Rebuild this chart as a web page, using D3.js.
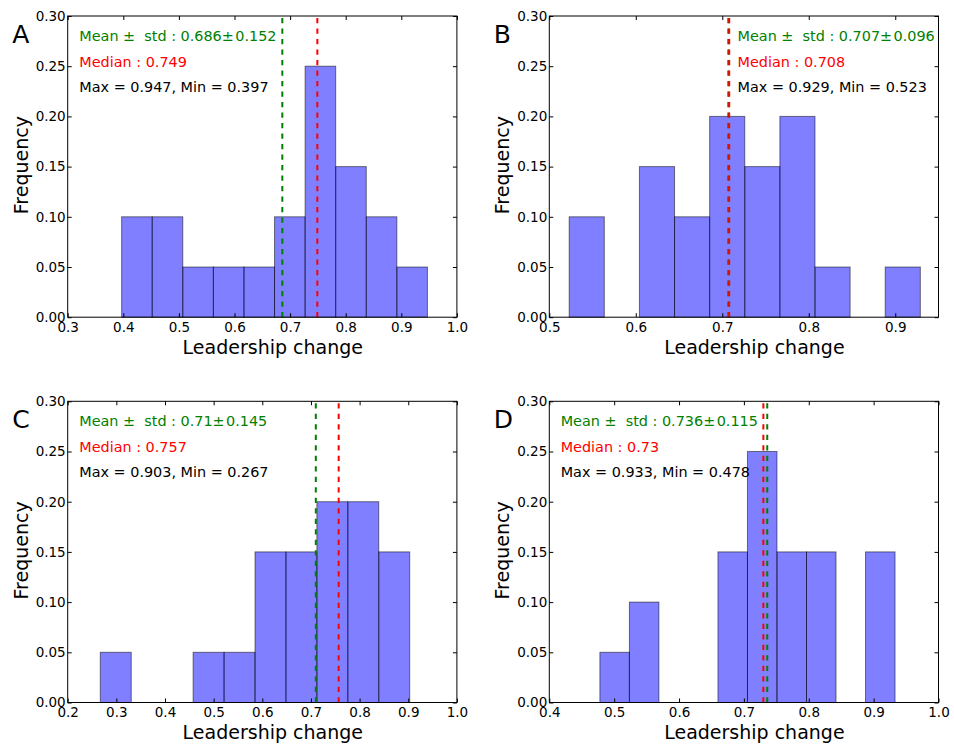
<!DOCTYPE html>
<html>
<head>
<meta charset="utf-8">
<script src="https://cdn.jsdelivr.net/npm/d3@7"></script>
<style>
  body { margin: 0; background: #fff; }
  svg { display: block; font-family: "DejaVu Sans", sans-serif; }
</style>
</head>
<body>
<svg id="chart" width="954" height="747"></svg>
<script>
// ---------------- data ----------------
const panelLetters = ["A", "B", "C", "D"];

const binEdgesA = [0.397, 0.452, 0.507, 0.562, 0.617, 0.672, 0.727, 0.782, 0.837, 0.892, 0.947];
const freqA     = [0.10, 0.10, 0.05, 0.05, 0.05, 0.10, 0.25, 0.15, 0.10, 0.05];

const binEdgesB = [0.523, 0.5636, 0.6042, 0.6448, 0.6854, 0.726, 0.7666, 0.8072, 0.8478, 0.8884, 0.929];
const freqB     = [0.10, 0.00, 0.15, 0.10, 0.20, 0.15, 0.20, 0.05, 0.00, 0.05];

const binEdgesC = [0.267, 0.3306, 0.3942, 0.4578, 0.5214, 0.585, 0.6486, 0.7122, 0.7758, 0.8394, 0.903];
const freqC     = [0.05, 0.00, 0.00, 0.05, 0.05, 0.15, 0.15, 0.20, 0.20, 0.15];

const binEdgesD = [0.478, 0.5235, 0.569, 0.6145, 0.66, 0.7055, 0.751, 0.7965, 0.842, 0.8875, 0.933];
const freqD     = [0.05, 0.10, 0.00, 0.00, 0.15, 0.25, 0.15, 0.15, 0.00, 0.15];

const meanVals   = [0.686, 0.707, 0.71, 0.736];
const stdVals    = [0.152, 0.096, 0.145, 0.115];
const medianVals = [0.749, 0.708, 0.757, 0.73];
const maxVals    = [0.947, 0.929, 0.903, 0.933];
const minVals    = [0.397, 0.523, 0.267, 0.478];

const xDomains = [[0.3, 1.0], [0.5, 0.95], [0.2, 1.0], [0.4, 1.0]];
const xTicksA = [0.3, 0.4, 0.5, 0.6, 0.7, 0.8, 0.9, 1.0];
const xTicksB = [0.5, 0.6, 0.7, 0.8, 0.9];
const xTicksC = [0.2, 0.3, 0.4, 0.5, 0.6, 0.7, 0.8, 0.9, 1.0];
const xTicksD = [0.4, 0.5, 0.6, 0.7, 0.8, 0.9, 1.0];
const yTicks = [0.00, 0.05, 0.10, 0.15, 0.20, 0.25, 0.30];
const yDomain = [0, 0.30];

const xLabel = "Leadership change";
const yLabel = "Frequency";

// ---------------- layout ----------------
const layout = [
  { left: 67.7,  top: 16,    textX: 0.3209 },
  { left: 549.3, top: 16,    textX: 0.7177 },
  { left: 67.7,  top: 401.3, textX: 0.2238 },
  { left: 549.3, top: 401.3, textX: 0.4176 }
];
const W = 389.2, H = 301.2;

const panelData = [
  { edges: binEdgesA, freq: freqA, ticks: xTicksA },
  { edges: binEdgesB, freq: freqB, ticks: xTicksB },
  { edges: binEdgesC, freq: freqC, ticks: xTicksC },
  { edges: binEdgesD, freq: freqD, ticks: xTicksD }
];

const svg = d3.select("#chart");
svg.append("rect").attr("width", 954).attr("height", 747).attr("fill", "#fff");

panelData.forEach((pd, i) => {
  const L = layout[i];
  const g = svg.append("g").attr("transform", `translate(${L.left},${L.top})`);
  const x = d3.scaleLinear().domain(xDomains[i]).range([0, W]);
  const y = d3.scaleLinear().domain(yDomain).range([H, 0]);

  const bins = pd.freq.map((f, k) => ({ x0: pd.edges[k], x1: pd.edges[k + 1], f }))
                      .filter(b => b.f > 0);

  g.selectAll("rect.bar").data(bins).enter().append("rect")
    .attr("class", "bar")
    .attr("x", b => x(b.x0))
    .attr("width", b => x(b.x1) - x(b.x0))
    .attr("y", b => y(b.f))
    .attr("height", b => y(0) - y(b.f))
    .attr("fill", "#0000ff").attr("fill-opacity", 0.5)
    .attr("stroke", "#000").attr("stroke-opacity", 0.5).attr("stroke-width", 1);

  // dashed mean / median lines
  const vline = (v, color) => g.append("line")
    .attr("x1", x(v)).attr("x2", x(v))
    .attr("y1", y(0)).attr("y2", y(0.30))
    .attr("stroke", color).attr("stroke-width", 2)
    .attr("stroke-dasharray", "5.3,5.2");
  vline(meanVals[i], "#008000");
  vline(medianVals[i], "#ff0000");

  // axes (ticks inside, all four sides)
  const fmtX = d3.format(".1f"), fmtY = d3.format(".2f");
  const axB = g.append("g").attr("transform", `translate(0,${H})`)
    .call(d3.axisBottom(x).tickValues(pd.ticks).tickSize(-4).tickPadding(4.8).tickFormat(fmtX));
  const axT = g.append("g")
    .call(d3.axisTop(x).tickValues(pd.ticks).tickSize(-4).tickFormat(""));
  const axL = g.append("g")
    .call(d3.axisLeft(y).tickValues(yTicks).tickSize(-4).tickPadding(2).tickFormat(fmtY));
  const axR = g.append("g").attr("transform", `translate(${W},0)`)
    .call(d3.axisRight(y).tickValues(yTicks).tickSize(-4).tickFormat(""));
  [axB, axT, axL, axR].forEach(a => {
    a.select(".domain").remove();
    a.selectAll("line").attr("stroke", "#000");
    a.selectAll("text").attr("font-size", "13.5px").attr("fill", "#000")
      .attr("font-family", "DejaVu Sans, sans-serif");
  });

  // frame
  g.append("rect").attr("width", W).attr("height", H)
    .attr("fill", "none").attr("stroke", "#000").attr("stroke-width", 1);

  // annotations
  const tx = x(L.textX);
  g.append("text").attr("x", tx).attr("y", 24.7)
    .attr("font-size", "14.4px").attr("fill", "#008000")
    .style("white-space", "pre")
    .text(`Mean \u00b1  std : ${meanVals[i]}\u00b1\u200a${stdVals[i]}`);
  g.append("text").attr("x", tx).attr("y", 50.6)
    .attr("font-size", "14.4px").attr("fill", "#ff0000")
    .text(`Median : ${medianVals[i]}`);
  g.append("text").attr("x", tx).attr("y", 76.1)
    .attr("font-size", "14.4px").attr("fill", "#000")
    .text(`Max = ${maxVals[i]}, Min = ${minVals[i]}`);

  // axis labels
  g.append("text").attr("x", W / 2 + 10.5).attr("y", H + 36.7)
    .attr("text-anchor", "middle").attr("font-size", "19px").attr("fill", "#000")
    .text(xLabel);
  g.append("text").attr("transform", `translate(-40,${H / 2 - 1.5}) rotate(-90)`)
    .attr("text-anchor", "middle").attr("font-size", "19px").attr("fill", "#000")
    .text(yLabel);

  // panel letter
  g.append("text").attr("x", -55.5).attr("y", 27)
    .attr("font-size", "25px").attr("fill", "#000")
    .text(panelLetters[i]);
});
</script>
</body>
</html>
